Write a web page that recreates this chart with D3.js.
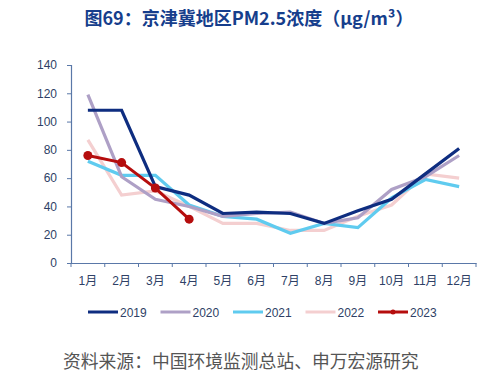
<!DOCTYPE html>
<html><head><meta charset="utf-8">
<script src="https://cdn.jsdelivr.net/npm/d3@7"></script>
<style>
body{margin:0;background:#fff;}
svg{display:block;}
</style></head>
<body>
<svg id="c" width="499" height="380"></svg>
<script>
const months = ["1月","2月","3月","4月","5月","6月","7月","8月","9月","10月","11月","12月"];
const years = ["2019","2020","2021","2022","2023"];
const v2019 = [108,108,54,48,35,36,35,28,37,45,63,81];
const v2020 = [119,61,45,40,33,35,36,28,32,52,61,76];
const v2021 = [72,62,62,41,33,31,21,28,25,46,59,54];
const v2022 = [87,48,51,40,28,28,23,23,33,41,63,60];
const v2023 = [76,71,53,31];
const yTicks = [0,20,40,60,80,100,120,140];
const colors = ["#0e2d80","#aea0c6","#5fcbef","#f4cfd0","#b50d0d"];
const title = "图69：京津冀地区PM2.5浓度（μg/m³）";
const source = "资料来源：中国环境监测总站、申万宏源研究";

(function(){
const series = [v2019,v2020,v2021,v2022,v2023];
const svg = d3.select("#c");
const mLeft = 71, mRight = 476, mTop = 65, mBottom = 263;
const x = d3.scaleBand().domain(months).range([mLeft,mRight]).padding(0);
const y = d3.scaleLinear().domain([0,140]).range([mBottom,mTop]);
const axisColor = "#5a78a8";
const textColor = "#2e3f66";

svg.append("text").attr("x",249).attr("y",25).attr("text-anchor","middle")
  .attr("font-family","'Noto Sans CJK SC','Noto Sans',sans-serif").attr("font-weight","bold")
  .attr("font-size",18).attr("fill","#163e8c").text(title);

const gy = svg.append("g").attr("transform",`translate(${mLeft},0)`)
  .call(d3.axisLeft(y).tickValues(yTicks).tickSize(4).tickPadding(10));
const gx = svg.append("g").attr("transform",`translate(0,${mBottom})`)
  .call(d3.axisBottom(x).tickSize(0).tickPadding(13));
[gx,gy].forEach(g=>{
  g.select(".domain").attr("stroke",axisColor).attr("stroke-width",1.2);
  g.selectAll(".tick line").attr("stroke",axisColor);
  g.selectAll("text").attr("fill",textColor).attr("font-size",12)
    .attr("font-family","'Liberation Sans','Noto Sans CJK SC',sans-serif");
});
const bounds = months.map(m=>x(m)).concat([x(months[months.length-1])+x.bandwidth()]);
gx.selectAll(".btick").data(bounds).enter().append("line")
  .attr("x1",d=>d).attr("x2",d=>d).attr("y1",0).attr("y2",4)
  .attr("stroke",axisColor).attr("stroke-width",1);

const line = d3.line().x((d,i)=>x(months[i])+x.bandwidth()/2).y(d=>y(d));
const order = [3,2,1,0,4];
order.forEach(k=>{
  svg.append("path").datum(series[k]).attr("d",line).attr("fill","none")
    .attr("stroke",colors[k]).attr("stroke-width",k===4?3:3.2).attr("stroke-linejoin","miter");
});
svg.selectAll(".dot").data(v2023).enter().append("circle")
  .attr("cx",(d,i)=>x(months[i])+x.bandwidth()/2).attr("cy",d=>y(d)).attr("r",4.5)
  .attr("fill",colors[4]);

const lg = svg.append("g");
years.forEach((yr,i)=>{
  const lx = 88 + i*72.5, ly = 312;
  lg.append("line").attr("x1",lx).attr("x2",lx+30).attr("y1",ly).attr("y2",ly)
    .attr("stroke",colors[i]).attr("stroke-width",3);
  if(i===4) lg.append("circle").attr("cx",lx+15).attr("cy",ly).attr("r",2.5).attr("fill",colors[i]);
  lg.append("text").attr("x",lx+32).attr("y",ly+4.5).attr("font-size",12)
    .attr("font-family","'Liberation Sans',sans-serif").attr("fill",textColor).text(yr);
});

svg.append("text").attr("x",63).attr("y",368)
  .attr("font-family","'Noto Sans CJK SC',sans-serif").attr("font-size",17.8)
  .attr("fill","#555").text(source);
})();
</script>
</body></html>
